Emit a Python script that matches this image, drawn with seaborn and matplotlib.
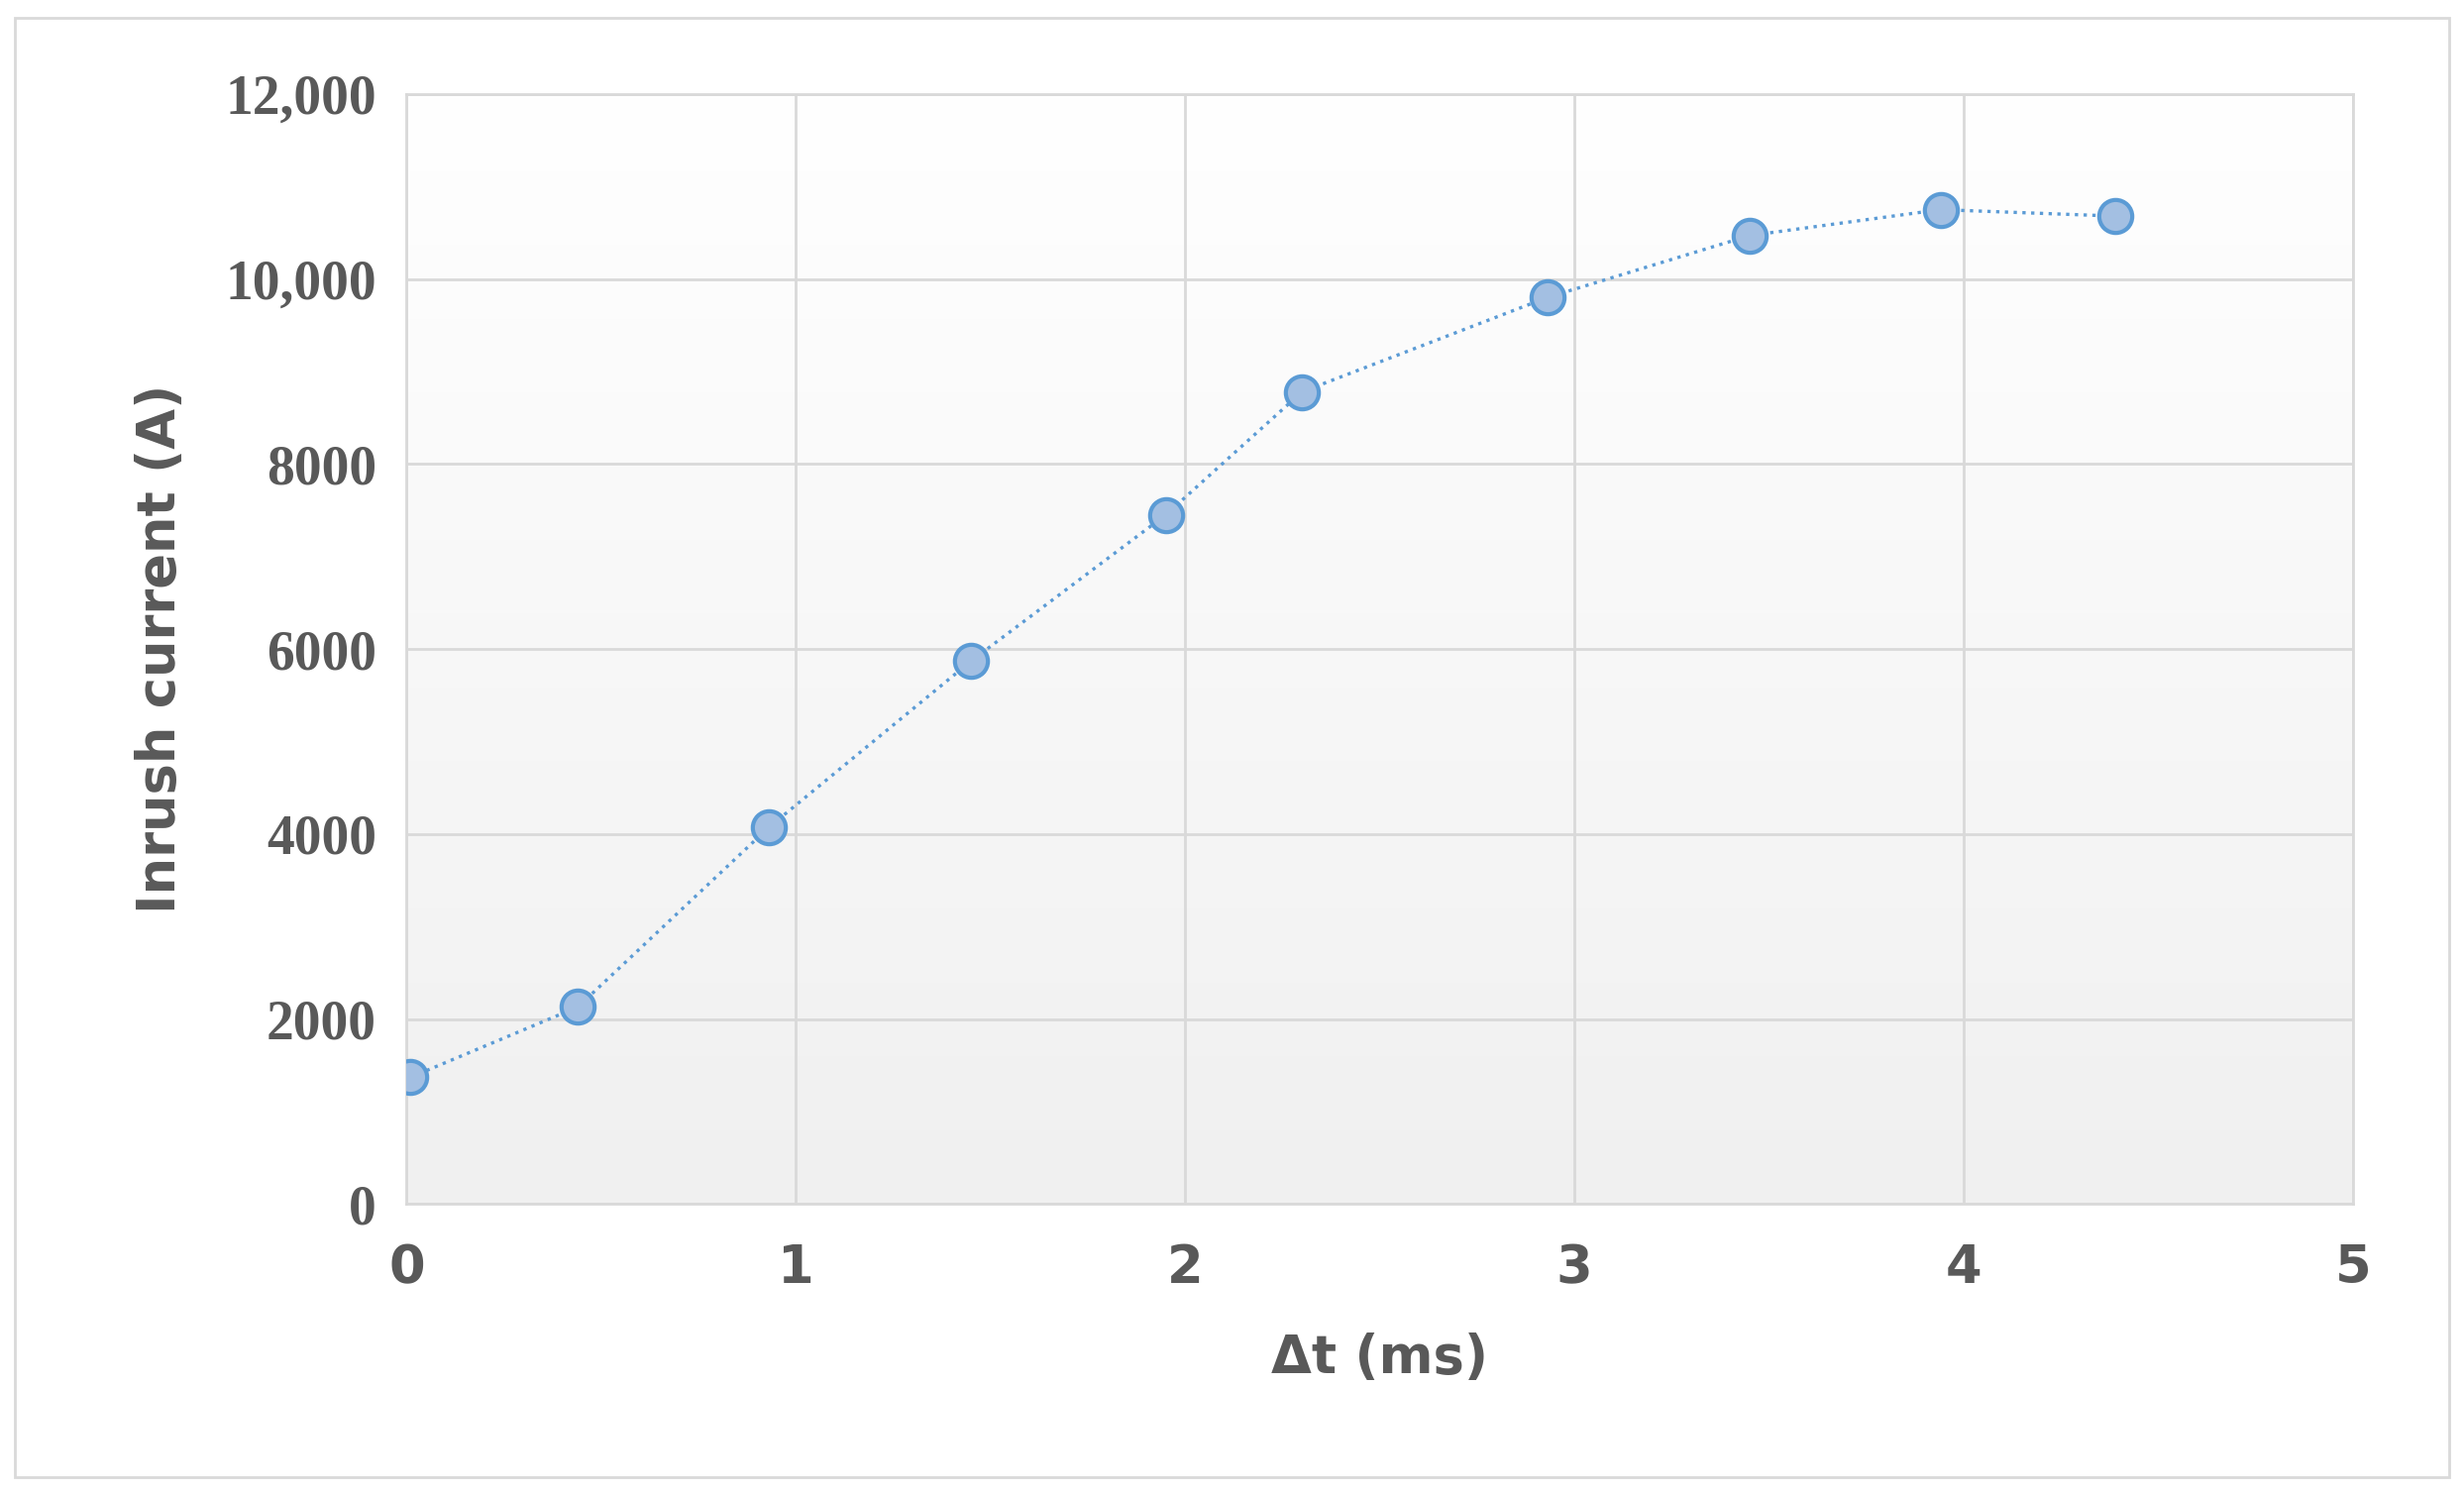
import numpy as np
import pandas as pd
import matplotlib
matplotlib.use("Agg")
import matplotlib.pyplot as plt
import seaborn as sns
from matplotlib.patches import Rectangle

dt_ms = [0.01, 0.44, 0.93, 1.45, 1.95, 2.30, 2.93, 3.45, 3.94, 4.39]
inrush_a = [1370, 2130, 4070, 5870, 7450, 8780, 9800, 10470, 10750, 10680]
x_ticks = [0, 1, 2, 3, 4, 5]
y_ticks = [0, 2000, 4000, 6000, 8000, 10000, 12000]
y_labels = ["0", "2000", "4000", "6000", "8000", "10,000", "12,000"]

df = pd.DataFrame({"dt": dt_ms, "I": inrush_a})
sns.set_theme(style="white")
plt.rcParams['font.family'] = ['DejaVu Sans']

fig = plt.figure(figsize=(24.87, 15.06), dpi=100)
ax = fig.add_axes([0.165, 0.193, 0.79, 0.744])
fig.patches.append(Rectangle((0.006, 0.01), 0.988, 0.978, transform=fig.transFigure,
                             fill=False, edgecolor="#d9d9d9", linewidth=2))

grad = np.linspace(0, 1, 256).reshape(-1, 1)
ax.imshow(grad, extent=[0, 5, 0, 12000], aspect="auto", origin="lower",
          cmap=matplotlib.colors.LinearSegmentedColormap.from_list("g", ["#f0f0f0", "#ffffff"]),
          zorder=0)

sns.lineplot(data=df, x="dt", y="I", ax=ax, color="#5b9bd5", linestyle=":", linewidth=2.4,
             marker="o", markersize=24, markerfacecolor="#a3bfe2", markeredgecolor="#5b9bd5",
             markeredgewidth=3, zorder=3)

ax.set_xlim(0, 5)
ax.set_ylim(0, 12000)
ax.set_xticks(x_ticks)
ax.set_yticks(y_ticks)
ax.set_yticklabels(y_labels, fontfamily="Liberation Serif", fontweight="bold", fontsize=40, color="#595959")
ax.set_xticklabels([str(t) for t in x_ticks], fontweight="bold", fontsize=38, color="#595959")
ax.grid(True, color="#d9d9d9", linewidth=2)
ax.set_axisbelow(True)
for s in ax.spines.values():
    s.set_color("#d9d9d9"); s.set_linewidth(2)
ax.tick_params(axis="y", length=0, pad=22)
ax.tick_params(axis="x", length=0, pad=28)
ax.set_xlabel("Δt (ms)", fontsize=38, fontweight="bold", color="#595959", labelpad=28)
ax.set_ylabel("Inrush current (A)", fontsize=38, fontweight="bold", color="#595959", labelpad=28)

fig.savefig("out.png", dpi=100)
